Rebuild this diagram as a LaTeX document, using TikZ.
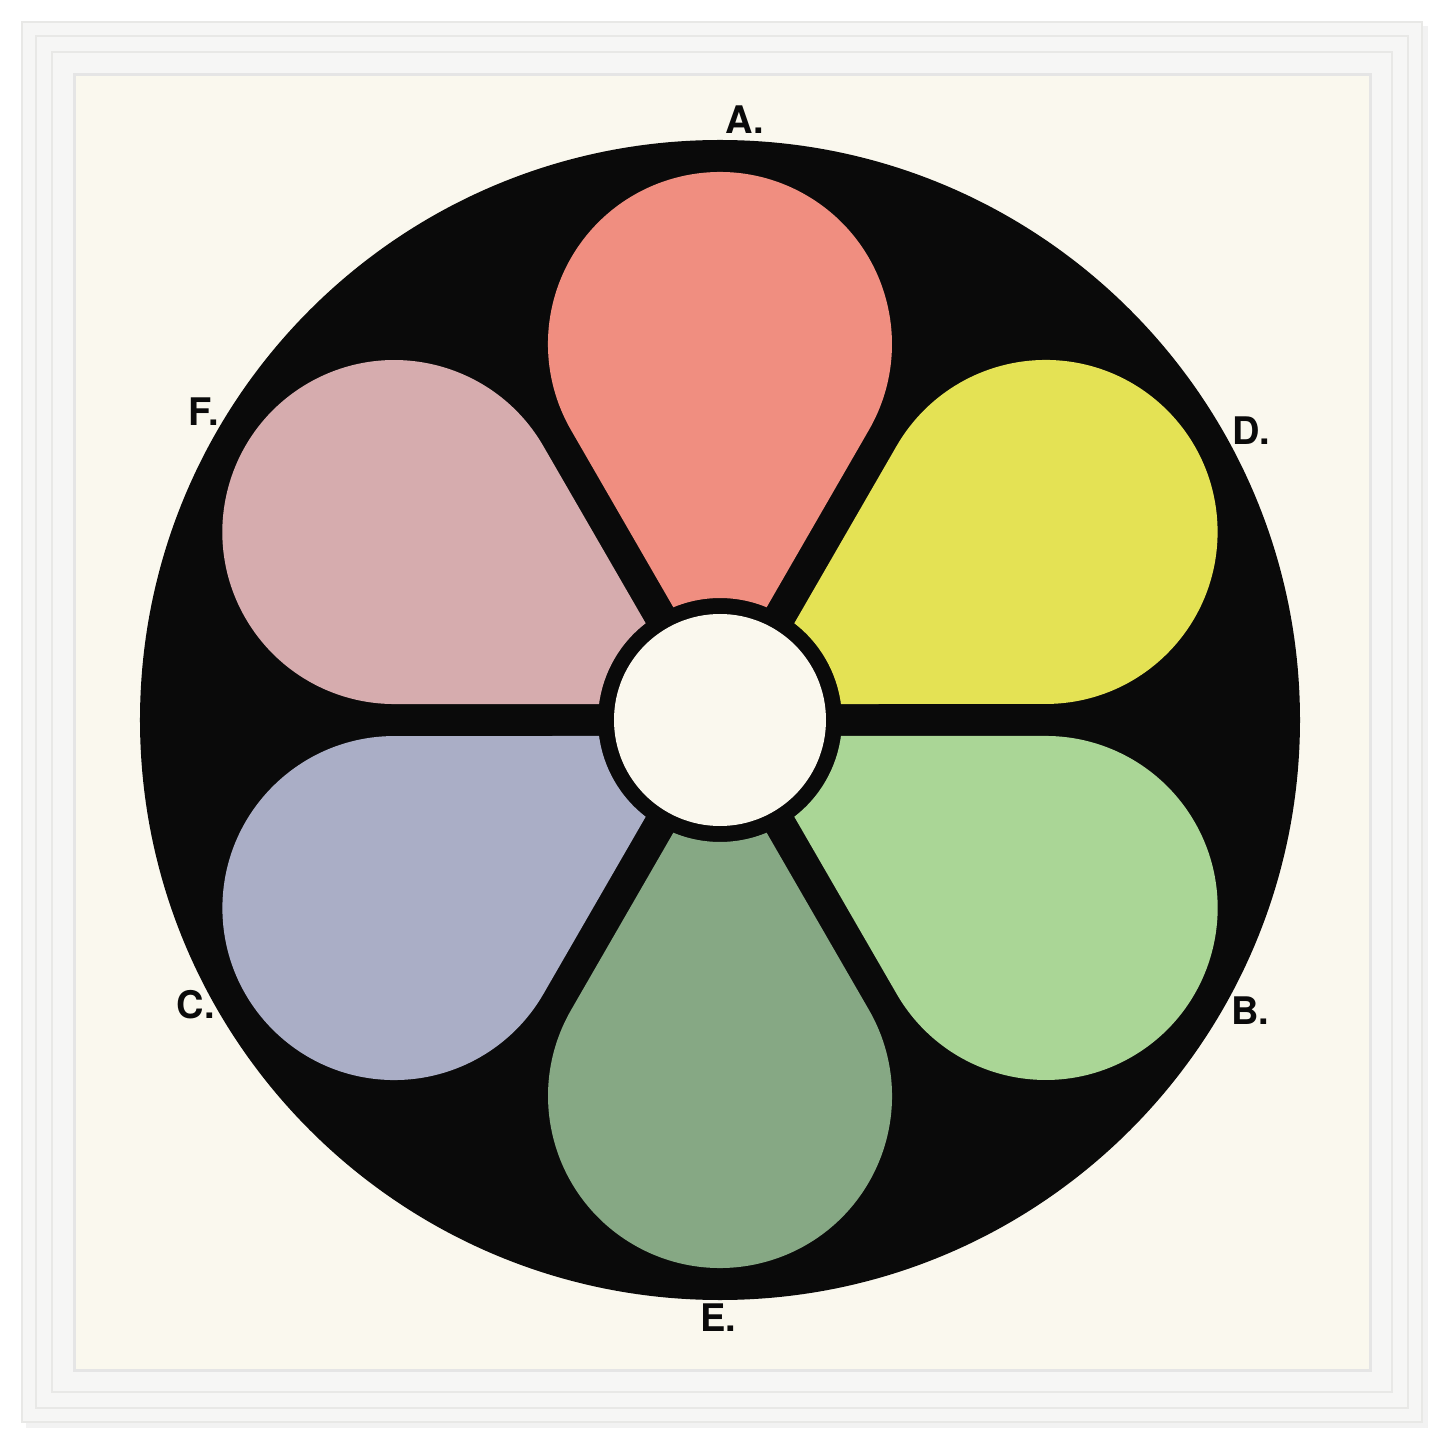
\documentclass[tikz,border=0pt]{standalone}
\usepackage{fontspec}
\setmainfont{TeX Gyre Heros}
\definecolor{cream}{RGB}{250,248,238}
\definecolor{framew}{RGB}{246,246,245}
\definecolor{frameedge}{RGB}{232,232,230}
\definecolor{ink}{RGB}{10,10,10}
\definecolor{petA}{RGB}{240,142,128}
\definecolor{petD}{RGB}{228,226,84}
\definecolor{petB}{RGB}{170,214,150}
\definecolor{petE}{RGB}{134,168,132}
\definecolor{petC}{RGB}{170,174,198}
\definecolor{petF}{RGB}{214,172,174}
\tikzset{
  letter/.style={font=\fontsize{19}{22}\selectfont\bfseries, text=ink, inner sep=0pt},
  petal/.pic={
    \fill[#1] (-22.47:122) -- (290,-148.9) arc[start angle=-120, end angle=120, radius=172]
      -- (22.47:122) arc[start angle=22.47, end angle=-22.47, radius=122] -- cycle;
  }
}
\begin{document}
\begin{tikzpicture}[x=0.5pt,y=0.5pt]
\useasboundingbox (-720,-725) rectangle (725,720);
\fill[white] (-720,-725) rectangle (725,720);
% shadow of frame
\fill[black!5] (-694,-708) rectangle (708,694);
% frame
\fill[framew] (-698,-702) rectangle (702,698);
\draw[frameedge, line width=1] (-698,-702) rectangle (702,698);
\draw[frameedge, line width=0.6] (-684,-688) rectangle (688,684);
\draw[frameedge, line width=0.6] (-668,-672) rectangle (672,668);
% mat
\fill[cream] (-645,-650) rectangle (650,645);
\draw[black!10, line width=1.5] (-645,-650) rectangle (650,645);
% disc
\fill[ink] (0,0) circle[radius=580];
% petals
\pic[rotate=90]  {petal=petA};
\pic[rotate=30]  {petal=petD};
\pic[rotate=-30] {petal=petB};
\pic[rotate=-90] {petal=petE};
\pic[rotate=210] {petal=petC};
\pic[rotate=150] {petal=petF};
% centre
\fill[cream] (0,0) circle[radius=106];
% labels
\node[letter] (labA) at (25,600) {A.};
\node[letter] (labD) at (531,289) {D.};
\node[letter] (labB) at (530,-291) {B.};
\node[letter] (labE) at (-2,-598) {E.};
\node[letter] (labC) at (-524,-285) {C.};
\node[letter] (labF) at (-516,308) {F.};
\end{tikzpicture}
\end{document}
